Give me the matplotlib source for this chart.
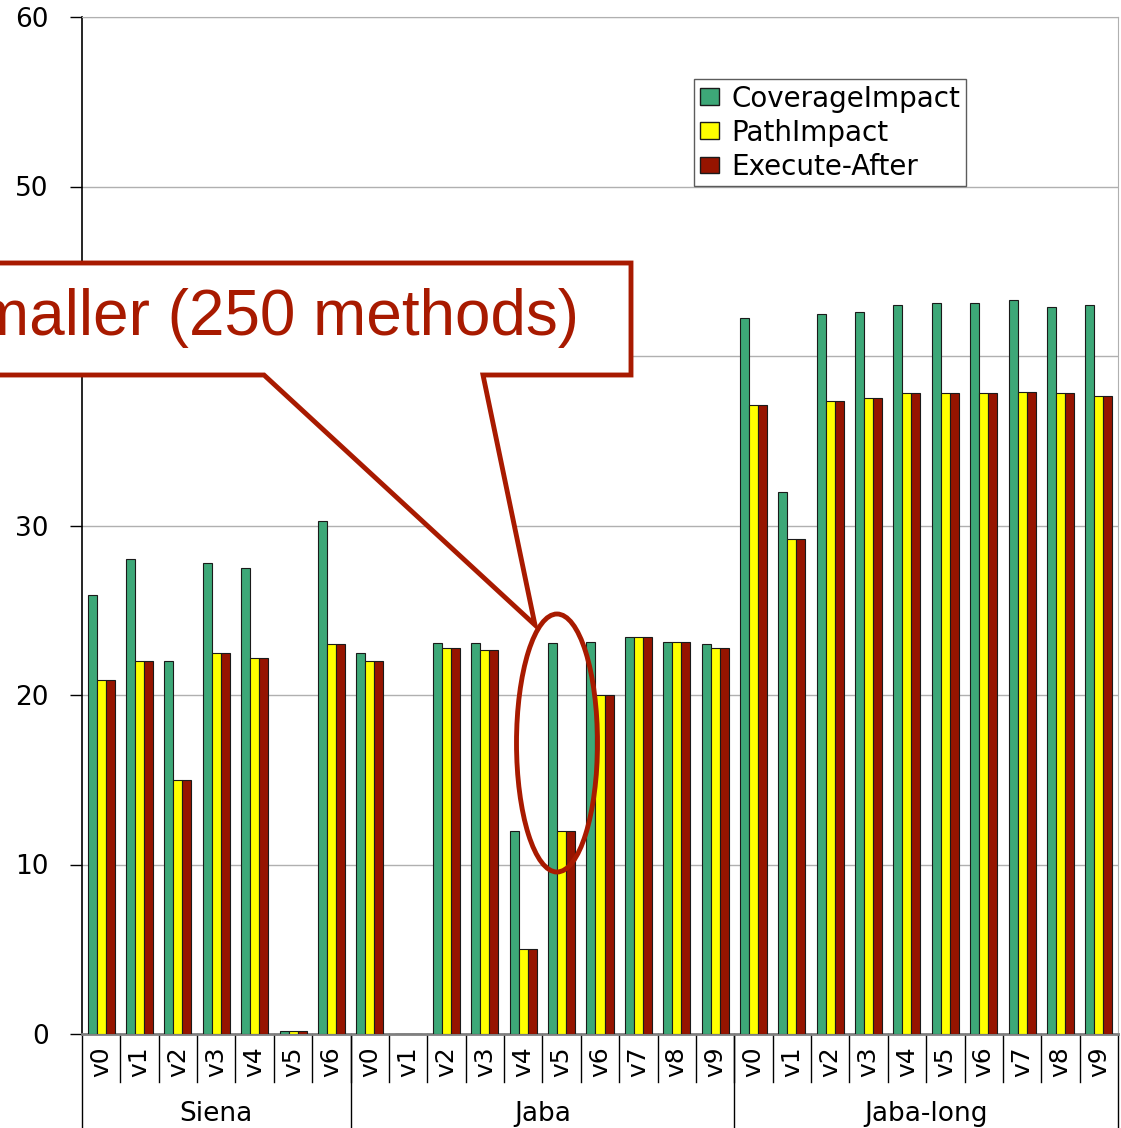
import numpy as np
import matplotlib
matplotlib.use('Agg')
import matplotlib.pyplot as plt
from matplotlib.patches import Polygon, Ellipse, Patch
from matplotlib.transforms import blended_transform_factory

plt.rcParams['font.family'] = ['DejaVu Sans']

groups = ['Siena', 'Jaba', 'Jaba-long']
versions = [
    ['v0', 'v1', 'v2', 'v3', 'v4', 'v5', 'v6'],
    ['v0', 'v1', 'v2', 'v3', 'v4', 'v5', 'v6', 'v7', 'v8', 'v9'],
    ['v0', 'v1', 'v2', 'v3', 'v4', 'v5', 'v6', 'v7', 'v8', 'v9'],
]

coverage_impact = [25.9, 28.0, 22.0, 27.8, 27.5, 0.15, 30.25,
                   22.5, 0.0, 23.05, 23.05, 12.0, 23.05, 23.15, 23.4, 23.15, 23.0,
                   42.25, 32.0, 42.5, 42.6, 43.0, 43.15, 43.15, 43.3, 42.9, 43.0]
path_impact = [20.9, 22.0, 15.0, 22.5, 22.2, 0.15, 23.0,
               22.0, 0.0, 22.75, 22.65, 5.0, 12.0, 20.0, 23.4, 23.15, 22.75,
               37.1, 29.2, 37.35, 37.5, 37.8, 37.8, 37.8, 37.85, 37.8, 37.65]
execute_after = [20.9, 22.0, 15.0, 22.5, 22.2, 0.15, 23.0,
                 22.0, 0.0, 22.75, 22.65, 5.0, 12.0, 20.0, 23.4, 23.15, 22.75,
                 37.1, 29.2, 37.35, 37.5, 37.8, 37.8, 37.8, 37.85, 37.8, 37.65]

c_green = '#3DA878'
c_yellow = '#FFFF00'
c_red = '#961400'
c_call = '#A81A00'

W, H = 1121, 1128
fig = plt.figure(figsize=(W / 100, H / 100), dpi=100)
fig.patch.set_facecolor('white')
ax = fig.add_axes([82 / W, 1 - 1034 / H, (1118 - 82) / W, (1034 - 17) / H])

labels = [v for g in versions for v in g]
n = len(labels)
x = np.arange(n) + 0.5
bw = 0.235
ax.bar(x - bw, coverage_impact, bw, color=c_green, edgecolor='#1a1a1a', linewidth=0.8, label='CoverageImpact', zorder=3)
ax.bar(x, path_impact, bw, color=c_yellow, edgecolor='#1a1a1a', linewidth=0.8, label='PathImpact', zorder=3)
ax.bar(x + bw, execute_after, bw, color=c_red, edgecolor='#1a1a1a', linewidth=0.8, label='Execute-After', zorder=3)

ax.set_xlim(0, n)
ax.set_ylim(0, 60)
ax.set_yticks(range(0, 61, 10))
ax.tick_params(axis='y', labelsize=19, length=9, width=1, color='black', pad=15)
ax.set_xticks([])
ax.grid(axis='y', color='#B0B0B0', linewidth=1, zorder=0)

ax.spines['left'].set_color('black')
ax.spines['left'].set_linewidth(1.2)
for s in ['top', 'right']:
    ax.spines[s].set_color('#B0B0B0')
ax.spines['bottom'].set_color('#808080')
ax.spines['bottom'].set_linewidth(2)

# category axis below the plot
tr = blended_transform_factory(ax.transData, ax.transAxes)
for i, lab in enumerate(labels):
    ax.text(i + 0.5, -0.027, lab, transform=tr, rotation=90, ha='center', va='center', fontsize=18)
for i in range(1, n):
    ax.plot([i, i], [0, -0.047], transform=tr, color='black', lw=1, clip_on=False)
bounds = np.cumsum([0] + [len(g) for g in versions])
for b in bounds:
    ax.plot([b, b], [0, -0.1], transform=tr, color='black', lw=1, clip_on=False)
for g, a, b in zip(groups, bounds[:-1], bounds[1:]):
    ax.text((a + b) / 2, -0.079, g, transform=tr, ha='center', va='center', fontsize=19)

handles = [Patch(facecolor=c_green, edgecolor='#1a1a1a', label='CoverageImpact'),
           Patch(facecolor=c_yellow, edgecolor='#1a1a1a', label='PathImpact'),
           Patch(facecolor=c_red, edgecolor='#1a1a1a', label='Execute-After')]
leg = fig.legend(handles=handles, loc='upper left', bbox_to_anchor=(694 / W, 1 - 79 / H),
                 fontsize=20, frameon=True, fancybox=False, handlelength=0.7, handleheight=0.55,
                 handletextpad=0.45, labelspacing=0.22, borderpad=0.2, borderaxespad=0)
leg.get_frame().set_edgecolor('#333333')
leg.get_frame().set_linewidth(1)


def fp(px, py):
    return (px / W, 1 - py / H)


# callout box with pointer
pts = [fp(-20, 263), fp(631, 263), fp(631, 375), fp(483, 375), fp(535, 625),
       fp(264, 375), fp(-20, 375)]
fig.add_artist(Polygon(pts, closed=True, facecolor='white', edgecolor=c_call,
                       linewidth=3.5, joinstyle='miter', transform=fig.transFigure, zorder=10))
fig.text(579 / W, 1 - 318 / H, 'maller (250 methods)', color=c_call, fontsize=46,
         family='Liberation Sans', ha='right', va='center', zorder=11)

# ellipse around Jaba v5
cx, cy = fp(557, 743)
fig.add_artist(Ellipse((cx, cy), 81 / W, 258 / H, facecolor='none', edgecolor=c_call,
                       linewidth=3.5, transform=fig.transFigure, zorder=10))

fig.savefig('out.png', dpi=100)
